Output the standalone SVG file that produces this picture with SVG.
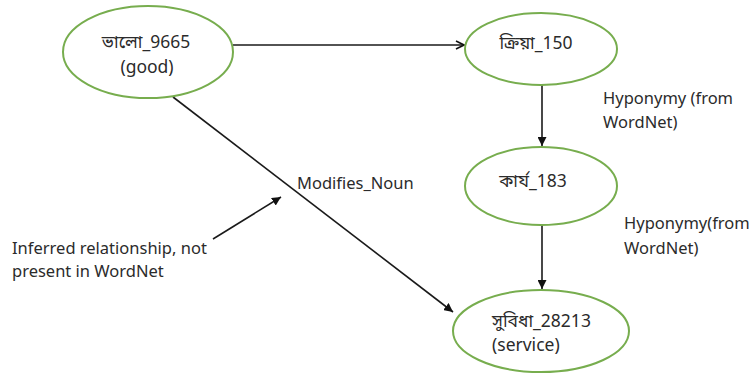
<svg xmlns="http://www.w3.org/2000/svg" width="755" height="379" viewBox="0 0 755 379">
  <style>
    .node ellipse { fill: #ffffff; stroke: #77ad4e; stroke-width: 2; }
    text { font-family: "Noto Sans", "Noto Sans Bengali", "Lohit Bengali", "Open Sans", sans-serif; fill: #2b2b2b; }
    .lbl { font-size: 16.5px; }
    .nl { font-size: 17.5px; }
    .edge { stroke: #1a1a1a; stroke-width: 1.6; fill: none; }
  </style>
  <defs>
    <marker id="solid" viewBox="0 0 10 10" refX="10" refY="5" markerWidth="9" markerHeight="9" markerUnits="userSpaceOnUse" orient="auto">
      <path d="M0,0 L10,5 L0,10 z" fill="#111"/>
    </marker>
    <marker id="open" viewBox="0 0 10 10" refX="9" refY="5" markerWidth="10" markerHeight="10" markerUnits="userSpaceOnUse" orient="auto">
      <path d="M1,1 L9,5 L1,9" fill="none" stroke="#111" stroke-width="1.6"/>
    </marker>
  </defs>

  <rect width="755" height="379" fill="#ffffff"/>

  <!-- connectors -->
  <g id="connectors">
    <line class="edge" x1="233" y1="45" x2="464" y2="45" marker-end="url(#open)"/>
    <line class="edge" x1="542" y1="85" x2="542" y2="146" marker-end="url(#solid)"/>
    <line class="edge" x1="542" y1="225" x2="542" y2="289" marker-end="url(#solid)"/>
    <line class="edge" x1="173" y1="97" x2="453" y2="312" marker-end="url(#solid)"/>
    <line class="edge" x1="213" y1="239" x2="281" y2="197" marker-end="url(#solid)"/>
  </g>

  <!-- nodes -->
  <g id="node-bhalo" class="node">
    <ellipse cx="148" cy="52" rx="85" ry="46"/>
    <text class="nl" x="146" y="48" text-anchor="middle">ভালো_9665</text>
    <text class="nl" x="147" y="73" text-anchor="middle">(good)</text>
  </g>
  <g id="node-kriya" class="node">
    <ellipse cx="541" cy="49" rx="76" ry="36"/>
    <text class="nl" x="536" y="49" text-anchor="middle">ক্রিয়া_150</text>
  </g>
  <g id="node-karya" class="node">
    <ellipse cx="541" cy="186" rx="76" ry="39"/>
    <text class="nl" x="533" y="187" text-anchor="middle">কার্য_183</text>
  </g>
  <g id="node-subidha" class="node">
    <ellipse cx="541" cy="331" rx="88" ry="41"/>
    <text class="nl" x="492" y="327">সুবিধা_28213</text>
    <text class="nl" x="492" y="351">(service)</text>
  </g>

  <!-- edge labels and notes -->
  <g id="labels">
    <text class="lbl" x="297" y="189">Modifies_Noun</text>
    <text class="lbl" x="12" y="254">Inferred relationship, not</text>
    <text class="lbl" x="12" y="277">present in WordNet</text>
    <text class="lbl" x="603" y="104">Hyponymy (from</text>
    <text class="lbl" x="603" y="128">WordNet)</text>
    <text class="lbl" x="624" y="229">Hyponymy(from</text>
    <text class="lbl" x="624" y="254">WordNet)</text>
  </g>
</svg>
